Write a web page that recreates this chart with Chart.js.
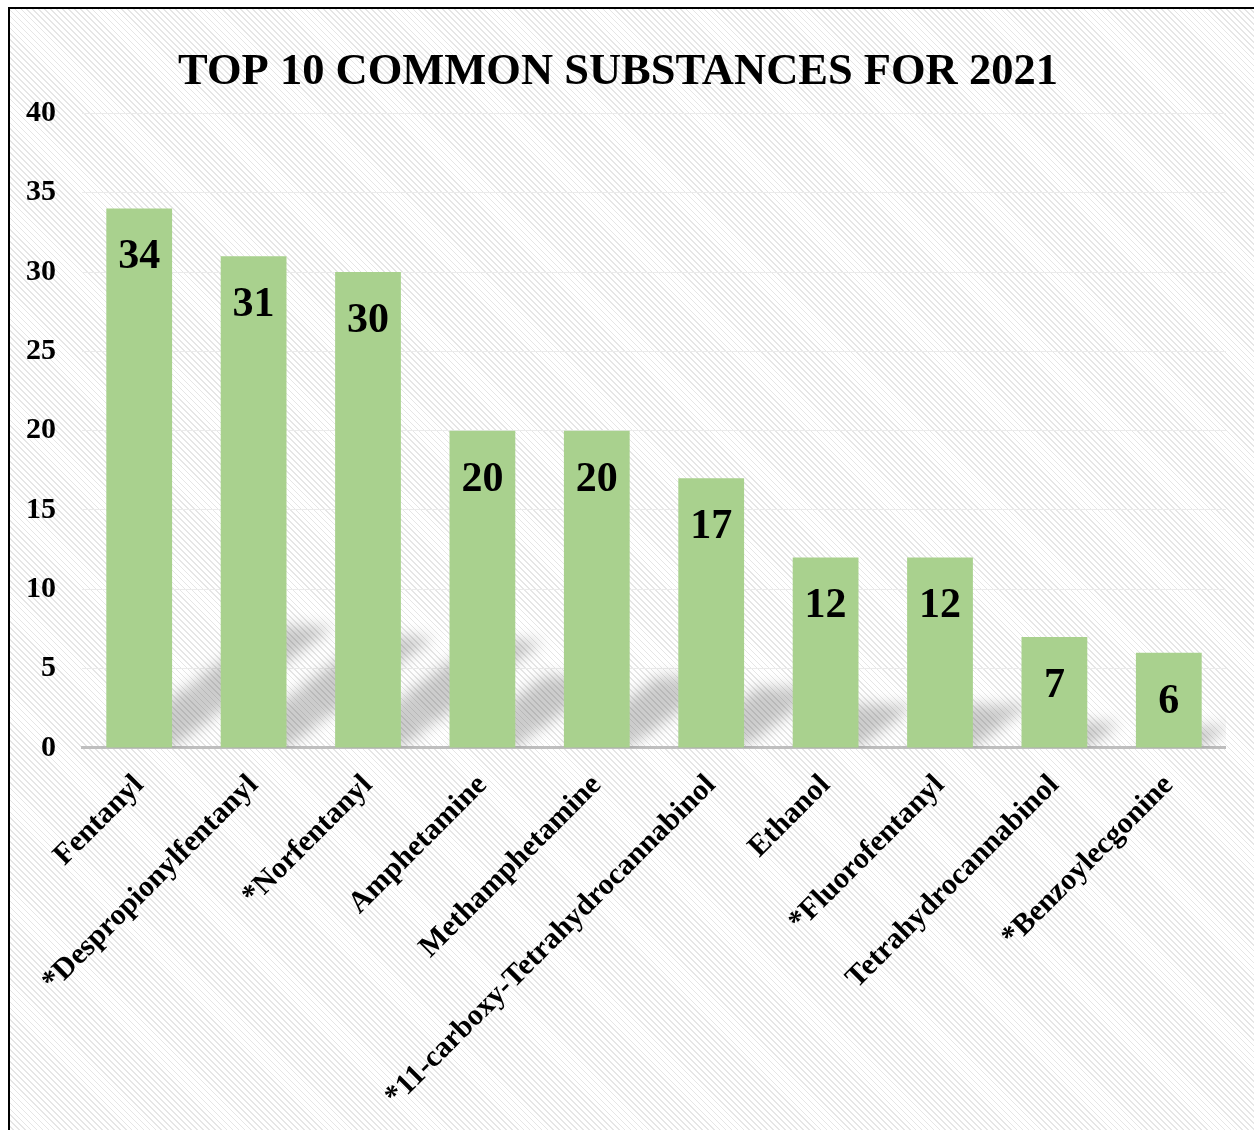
<!DOCTYPE html>
<html>
<head>
<meta charset="utf-8">
<script src="https://cdn.jsdelivr.net/npm/chart.js@4.4.1/dist/chart.umd.min.js"></script>
<style>
  html, body { margin: 0; padding: 0; background: #fff; overflow: hidden; }
  .frame {
    position: absolute; left: 8px; top: 7px;
    width: 1300px; height: 1200px;
    border-left: 2px solid #000; border-top: 2px solid #000;
    background: repeating-linear-gradient(45deg, #fff 0px, #fff 3px, #e6e6e6 3px, #e6e6e6 4.2px);
  }
  .box { position: absolute; left: 0; top: 0; width: 1216px; height: 1125px; }
</style>
</head>
<body>
<div class="frame">
  <div class="box"><canvas class="chart-1"></canvas></div>
</div>
<script>
const substances = ['Fentanyl', '*Despropionylfentanyl', '*Norfentanyl', 'Amphetamine', 'Methamphetamine',
  '*11-carboxy-Tetrahydrocannabinol', 'Ethanol', '*Fluorofentanyl', 'Tetrahydrocannabinol', '*Benzoylecgonine'];
const counts = [34, 31, 30, 20, 20, 17, 12, 12, 7, 6];
const titleText = 'TOP 10 COMMON SUBSTANCES FOR 2021';

const chart1 = document.querySelector('.chart-1');
const serif = "'Liberation Serif', 'Times New Roman', serif";

// soft slanted shadow behind each bar (excel perspective shadow look)
const barShadows = {
  id: 'barShadows',
  beforeDatasetsDraw(chart) {
    const ctx = chart.ctx;
    const area = chart.chartArea;
    const meta = chart.getDatasetMeta(0);
    ctx.save();
    ctx.beginPath();
    ctx.rect(area.left, area.top, area.right - area.left, area.bottom - area.top);
    ctx.clip();
    ctx.filter = 'blur(7px)';
    ctx.fillStyle = 'rgba(0, 0, 0, 0.2)';
    meta.data.forEach(bar => {
      const h = (bar.base - bar.y) * 0.225;
      const dx = h / 0.75;
      const x0 = bar.x - bar.width / 2;
      const x1 = bar.x + bar.width / 2;
      ctx.beginPath();
      ctx.moveTo(x0, bar.base);
      ctx.lineTo(x1, bar.base);
      ctx.lineTo(x1 + dx, bar.base - h);
      ctx.lineTo(x0 + dx, bar.base - h);
      ctx.closePath();
      ctx.fill();
    });
    ctx.restore();
  }
};

// numbers inside the bars, a bit below the top
const barLabels = {
  id: 'barLabels',
  afterDatasetsDraw(chart) {
    const ctx = chart.ctx;
    const meta = chart.getDatasetMeta(0);
    ctx.save();
    ctx.font = 'bold 42px ' + serif;
    ctx.fillStyle = '#000';
    ctx.textAlign = 'center';
    ctx.textBaseline = 'middle';
    meta.data.forEach((bar, i) => {
      ctx.fillText(counts[i], bar.x, bar.y + 49);
    });
    ctx.restore();
  }
};

new Chart(chart1, {
  type: 'bar',
  data: {
    labels: substances,
    datasets: [{
      label: 'Count',
      data: counts,
      backgroundColor: '#a9d18e',
      categoryPercentage: 1,
      barPercentage: 0.575
    }]
  },
  options: {
    responsive: true,
    maintainAspectRatio: false,
    animation: false,
    layout: { padding: { top: 37, right: 0, bottom: 0, left: 0 } },
    plugins: {
      legend: { display: false },
      tooltip: { enabled: false },
      title: {
        display: true,
        text: titleText,
        color: '#000',
        font: { family: serif, size: 44.5, weight: 'bold' },
        padding: { top: 0, bottom: 14 }
      }
    },
    scales: {
      x: {
        grid: { display: false, drawTicks: false },
        border: { color: '#bfbfbf', width: 3 },
        ticks: {
          color: '#000',
          font: { family: serif, size: 30, weight: 'bold' },
          maxRotation: 45,
          minRotation: 45,
          padding: 20
        },
        // rotated first label may hang past the y axis
        afterFit(scale) { scale.paddingLeft = 0; }
      },
      y: {
        min: 0,
        max: 40,
        grid: { color: '#ebebeb', lineWidth: 1, drawTicks: false },
        border: { display: false },
        ticks: {
          stepSize: 5,
          color: '#000',
          font: { family: serif, size: 30, weight: 'bold' },
          padding: 26
        },
        afterFit(scale) { scale.width = 72; }
      }
    }
  },
  plugins: [barShadows, barLabels]
});
</script>
</body>
</html>
